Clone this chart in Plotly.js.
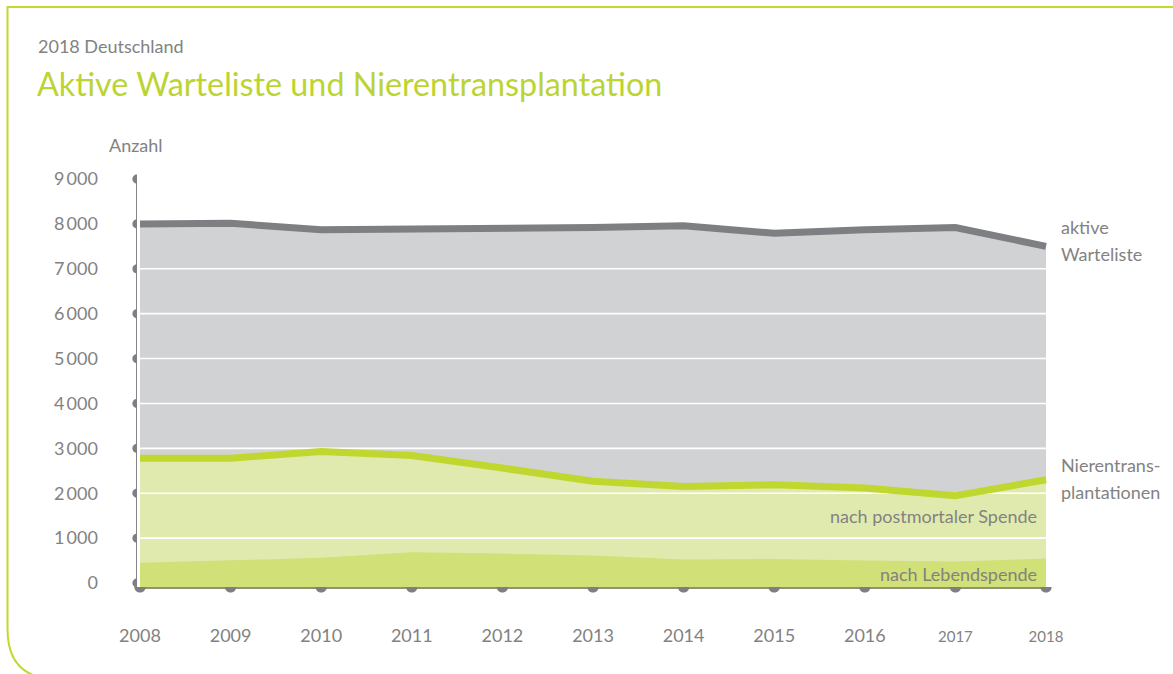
<!DOCTYPE html>
<html>
<head>
<meta charset="utf-8">
<script src="https://cdn.plot.ly/plotly-3.0.1.min.js"></script>
<style>
  html, body { margin: 0; padding: 0; background: #ffffff; }
  #chart { width: 1173px; height: 674px; }
</style>
</head>
<body>
<div id="chart"></div>
<script>
// ---- data ----
const years = [2008, 2009, 2010, 2011, 2012, 2013, 2014, 2015, 2016, 2017, 2018];
const yearLabels = ['2008', '2009', '2010', '2011', '2012', '2013', '2014', '2015', '2016',
  '<span style="font-size:15px">2017</span>', '<span style="font-size:15px">2018</span>'];
const aktiveWarteliste = [8000, 8015, 7870, 7880, 7920, 7920, 7960, 7790, 7870, 7920, 7500];
const nierentransplantationen = [2780, 2780, 2930, 2840, 2560, 2265, 2150, 2190, 2115, 1945, 2300];
const lebendspende = [450, 505, 560, 685, 655, 615, 525, 535, 500, 480, 545];
const yTicks = [0, 1000, 2000, 3000, 4000, 5000, 6000, 7000, 8000, 9000];
const yTickLabels = ['0', '1\u2009000', '2\u2009000', '3\u2009000', '4\u2009000', '5\u2009000',
  '6\u2009000', '7\u2009000', '8\u2009000', '9\u2009000'];
const gridValues = [1000, 2000, 3000, 4000, 5000, 6000, 7000, 8000];

// ---- style ----
const FONT = 'Lato, "Open Sans", sans-serif';
const WEIGHT = 400;
const TXT = '#828282';
const GREEN_TITLE = '#bcd433';
const GRAY_FILL = '#d1d2d4';
const GRAY_LINE = '#7e7f82';
const GREEN_LINE = '#c0d72f';
const LIGHT_GREEN = '#e1eaae';
const DARK_GREEN = '#d1e077';

const W = 1173, H = 674;
const M = { l: 137, r: 123, t: 179, b: 87 };
const PW = W - M.l - M.r, PH = H - M.t - M.b;
const xRange = [2007.967, 2018.044];
const yRange = [-89, 9000];

const pxX = px => (px - M.l) / PW;
const pxY = py => (H - M.b - py) / PH;
const xPaper = v => (v - xRange[0]) / (xRange[1] - xRange[0]);
const yPaper = v => (v - yRange[0]) / (yRange[1] - yRange[0]);

function semicircle(r, side) {
  const pts = [];
  const n = 14;
  for (let i = 0; i <= n; i++) {
    const t = Math.PI * i / n;
    if (side === 'left') pts.push([-r * Math.sin(t), r * Math.cos(t)]);
    else pts.push([r * Math.cos(t), -r * Math.sin(t)]);
  }
  return 'M ' + pts.map(p => p[0].toFixed(2) + ' ' + p[1].toFixed(2)).join(' L ') + ' Z';
}

// grid line trace data (built from tick values)
const gx = [], gy = [];
gridValues.forEach(v => { gx.push(xRange[0], xRange[1], null); gy.push(v, v, null); });

const traces = [
  { x: years, y: aktiveWarteliste, type: 'scatter', mode: 'none', fill: 'tozeroy',
    fillcolor: GRAY_FILL, hoverinfo: 'skip', showlegend: false },
  { x: years, y: nierentransplantationen, type: 'scatter', mode: 'none', fill: 'tozeroy',
    fillcolor: LIGHT_GREEN, hoverinfo: 'skip', showlegend: false },
  { x: years, y: lebendspende, type: 'scatter', mode: 'none', fill: 'tozeroy',
    fillcolor: DARK_GREEN, hoverinfo: 'skip', showlegend: false },
  { x: gx, y: gy, type: 'scatter', mode: 'lines', line: { color: '#ffffff', width: 1.6 },
    hoverinfo: 'skip', showlegend: false, connectgaps: false },
  { x: years, y: aktiveWarteliste, type: 'scatter', mode: 'lines',
    line: { color: GRAY_LINE, width: 7 }, showlegend: false },
  { x: years, y: nierentransplantationen, type: 'scatter', mode: 'lines',
    line: { color: GREEN_LINE, width: 7 }, showlegend: false }
];

const shapes = [];
// base band below zero down to the axis line
shapes.push({ type: 'rect', xref: 'x', yref: 'y', x0: years[0], x1: years[years.length - 1],
  y0: yRange[0], y1: 0, fillcolor: DARK_GREEN, line: { width: 0 }, layer: 'below' });
// y tick half dots
yTicks.forEach(v => shapes.push({ type: 'path', xref: 'paper', yref: 'paper',
  xsizemode: 'pixel', ysizemode: 'pixel', xanchor: 0, yanchor: yPaper(v),
  path: semicircle(4.6, 'left'), fillcolor: GRAY_LINE, line: { width: 0 }, layer: 'above' }));
// x tick half dots
years.forEach(yr => shapes.push({ type: 'path', xref: 'paper', yref: 'paper',
  xsizemode: 'pixel', ysizemode: 'pixel', xanchor: xPaper(yr), yanchor: 0,
  path: semicircle(5.6, 'bottom'), fillcolor: GRAY_LINE, line: { width: 0 }, layer: 'above' }));
// green frame with rounded bottom-left corner
shapes.push({ type: 'path', xref: 'paper', yref: 'paper', xsizemode: 'pixel', ysizemode: 'pixel',
  xanchor: 0, yanchor: 0,
  path: 'M 1050 580 L -129.5 580 L -129.5 -42 Q -129.5 -92 -80 -92',
  line: { color: '#c4d830', width: 2 }, fillcolor: 'rgba(0,0,0,0)', layer: 'above' });

function ann(text, px, py, opts) {
  return Object.assign({ text: text, xref: 'paper', yref: 'paper', x: pxX(px), y: pxY(py),
    xanchor: 'left', yanchor: 'middle', showarrow: false,
    font: { family: FONT, size: 18, color: TXT, weight: WEIGHT } }, opts || {});
}

const annotations = [
  ann('2018 Deutschland', 36, 46),
  ann('Aktive Warteliste und Nierentransplantation', 35, 84,
    { font: { family: FONT, size: 32.3, color: GREEN_TITLE, weight: WEIGHT } }),
  ann('Anzahl', 107, 145),
  ann('aktive', 1059, 227),
  ann('Warteliste', 1059, 254),
  ann('Nierentrans-', 1059, 465),
  ann('plantationen', 1059, 492),
  ann('nach postmortaler Spende', 1039, 516, { xanchor: 'right' }),
  ann('nach Lebendspende', 1039, 574, { xanchor: 'right' })
];

const layout = {
  width: W, height: H,
  margin: M,
  paper_bgcolor: '#ffffff', plot_bgcolor: '#ffffff',
  showlegend: false,
  xaxis: {
    range: xRange, tickvals: years, ticktext: yearLabels,
    showgrid: false, zeroline: false, showline: true, linecolor: '#8f9374', linewidth: 2,
    ticks: 'outside', ticklen: 31, tickcolor: 'rgba(0,0,0,0)',
    tickfont: { family: FONT, size: 18, color: TXT, weight: WEIGHT }, fixedrange: true
  },
  yaxis: {
    range: yRange, tickvals: yTicks, ticktext: yTickLabels,
    showgrid: false, zeroline: false, showline: true, linecolor: '#85868a', linewidth: 1.5,
    ticks: 'outside', ticklen: 34, tickcolor: 'rgba(0,0,0,0)',
    tickfont: { family: FONT, size: 18, color: TXT, weight: WEIGHT }, fixedrange: true
  },
  shapes: shapes,
  annotations: annotations
};

Plotly.newPlot('chart', traces, layout, { displayModeBar: false, staticPlot: true });
</script>
</body>
</html>
